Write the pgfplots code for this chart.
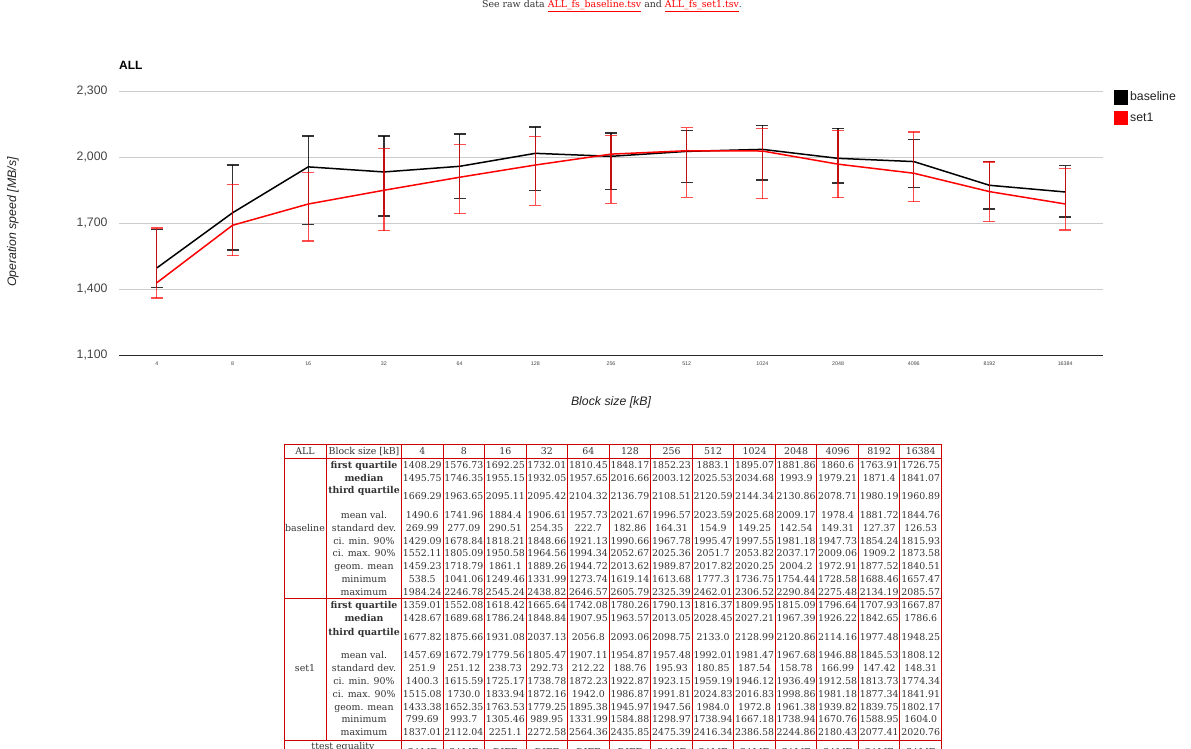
\documentclass[border=0pt]{standalone}
\usepackage{pgfplots}
\pgfplotsset{compat=1.18}
\usepackage{pgfplotstable}
\usepackage{fontspec}
\setmainfont{Liberation Sans}
\newfontfamily\serif{DejaVu Serif}
\definecolor{gridc}{HTML}{CCCCCC}
\definecolor{txt}{HTML}{444444}
\definecolor{ttl}{HTML}{222222}
\definecolor{tred}{HTML}{CC0000}
\definecolor{ttxt}{HTML}{333333}

\pgfplotstableread{
x q1 med q3
0 1408.29 1495.75 1669.29
1 1576.73 1746.35 1963.65
2 1692.25 1955.15 2095.11
3 1732.01 1932.05 2095.42
4 1810.45 1957.65 2104.32
5 1848.17 2016.66 2136.79
6 1852.23 2003.12 2108.51
7 1883.1 2025.53 2120.59
8 1895.07 2034.68 2144.34
9 1881.86 1993.9 2130.86
10 1860.6 1979.21 2078.71
11 1763.91 1871.4 1980.19
12 1726.75 1841.07 1960.89
}\tblbase

\pgfplotstableread{
x q1 med q3
0 1359.01 1428.67 1677.82
1 1552.08 1689.68 1875.66
2 1618.42 1786.24 1931.08
3 1665.64 1848.84 2037.13
4 1742.08 1907.95 2056.8
5 1780.26 1963.57 2093.06
6 1790.13 2013.05 2098.75
7 1816.37 2028.45 2133.0
8 1809.95 2027.21 2128.99
9 1815.09 1967.39 2120.86
10 1796.64 1926.22 2114.16
11 1707.93 1842.65 1977.48
12 1667.87 1786.6 1948.25
}\tblset

\newcommand\trow[2]{%
  \foreach \v [count=\i from 0] in {#2} {\node[anchor=base, inner sep=0pt] at ({422.27+41.54*\i},{#1+3.4}) {\v};}}
\newcommand\tlab[3]{\node[anchor=base, inner sep=0pt] at (364,{#1+3.4}) {#3#2};}

\begin{document}
\begin{tikzpicture}
\path[use as bounding box] (0,0) rectangle (1191pt,-749pt);
\clip (0,0) rectangle (1191pt,-749pt);
\begin{axis}[
  at={(119pt,-355pt)}, anchor=south west,
  width=984pt, height=264pt, scale only axis,
  xmin=-0.5, xmax=12.5, ymin=1100, ymax=2300,
  xtick={0,...,12},
  xticklabels={4,8,16,32,64,128,256,512,1024,2048,4096,8192,16384},
  ytick={1100,1400,1700,2000,2300},
  ymajorgrids, grid style={gridc, line width=0.8pt},
  axis line style={draw=none}, major tick length=0pt,
  xticklabel style={font=\fontsize{5.3}{6}\selectfont, text=txt, yshift=-3pt},
  yticklabel style={font=\fontsize{12.3}{14}\selectfont, text=txt, xshift=-8pt},
  clip=false,
  legend style={at={(1.0075,1.012)}, anchor=north west, draw=none, fill=none,
    font=\fontsize{12.3}{14}\selectfont, text=ttl, row sep=6pt,
    nodes={inner sep=2pt}},
  legend cell align=left,
  /pgf/number format/.cd, 1000 sep={,}, assume math mode=true
]
\draw[black!80!gridc, line width=1pt] (rel axis cs:0,0) -- (rel axis cs:1,0);
\addplot[black, line width=1.5pt, mark=none,
  legend image code/.code={\fill[black] (0pt,-6.5pt) rectangle (13pt,6.5pt);},
  error bars/.cd, y dir=both, y explicit,
  error bar style={line width=1.3pt, opacity=0.8},
  error mark options={black, rotate=90, line width=1.3pt, mark size=6pt, opacity=0.8}]
  table[x=x, y=med, y error plus expr=\thisrow{q3}-\thisrow{med}, y error minus expr=\thisrow{med}-\thisrow{q1}] {\tblbase};
\addlegendentry{baseline}
\addplot[red, line width=1.5pt, mark=none,
  legend image code/.code={\fill[red] (0pt,-6.5pt) rectangle (13pt,6.5pt);},
  error bars/.cd, y dir=both, y explicit,
  error bar style={line width=1.3pt, opacity=0.7},
  error mark options={red, rotate=90, line width=1.3pt, mark size=6pt, opacity=0.7}]
  table[x=x, y=med, y error plus expr=\thisrow{q3}-\thisrow{med}, y error minus expr=\thisrow{med}-\thisrow{q1}] {\tblset};
\addlegendentry{set1}
\end{axis}

\begin{scope}[x=1pt, y=-1pt]
% header text
\node[anchor=base, inner sep=0pt, font=\serif\fontsize{9.4}{11}\selectfont, text=ttxt] at (612,7.8)
  {See raw data \textcolor{red}{\underline{ALL\_fs\_baseline.tsv}} and \textcolor{red}{\underline{ALL\_fs\_set1.tsv}}.};
% titles
\node[anchor=base west, inner sep=0pt, font=\bfseries\fontsize{12}{14}\selectfont] at (119,69.3) {ALL};
\node[rotate=90, inner sep=0pt, font=\itshape\fontsize{12.3}{14}\selectfont, text=ttl] at (13,222) {Operation speed [MB/s]};
\node[inner sep=0pt, font=\itshape\fontsize{12.3}{14}\selectfont, text=ttl] at (611,402) {Block size [kB]};

% table
\begin{scope}[font=\serif\fontsize{9.4}{11}\selectfont, text=ttxt]
\draw[tred, line width=1pt] (284,444) rectangle (941.5,760);
\draw[tred, line width=1pt] (284,458) -- (941.5,458);
\draw[tred, line width=1pt] (284,598) -- (941.5,598);
\draw[tred, line width=1pt] (284,740) -- (941.5,740);
\draw[tred, line width=1pt] (326,444) -- (326,740);
\foreach \k in {0,...,12} {\draw[tred, line width=1pt] ({401.5+41.54*\k},444) -- ({401.5+41.54*\k},760);}

\node[anchor=base, inner sep=0pt] at (305,454.4) {ALL};
\node[anchor=base, inner sep=0pt] at (364,454.4) {Block size [kB]};
\trow{451}{4,8,16,32,64,128,256,512,1024,2048,4096,8192,16384}

\node[anchor=base, inner sep=0pt] at (305,531.4) {baseline};
\tlab{465.3}{first quartile}{\bfseries}
\tlab{478}{median}{\bfseries}
\tlab{490.5}{third quartile}{\bfseries}
\tlab{515}{mean val.}{}
\tlab{527.8}{standard dev.}{}
\tlab{540.6}{ci. min. 90\%}{}
\tlab{553.4}{ci. max. 90\%}{}
\tlab{566.2}{geom. mean}{}
\tlab{579}{minimum}{}
\tlab{591.8}{maximum}{}
\trow{465.3}{1408.29,1576.73,1692.25,1732.01,1810.45,1848.17,1852.23,1883.1,1895.07,1881.86,1860.6,1763.91,1726.75}
\trow{478}{1495.75,1746.35,1955.15,1932.05,1957.65,2016.66,2003.12,2025.53,2034.68,1993.9,1979.21,1871.4,1841.07}
\trow{496.5}{1669.29,1963.65,2095.11,2095.42,2104.32,2136.79,2108.51,2120.59,2144.34,2130.86,2078.71,1980.19,1960.89}
\trow{515}{1490.6,1741.96,1884.4,1906.61,1957.73,2021.67,1996.57,2023.59,2025.68,2009.17,1978.4,1881.72,1844.76}
\trow{527.8}{269.99,277.09,290.51,254.35,222.7,182.86,164.31,154.9,149.25,142.54,149.31,127.37,126.53}
\trow{540.6}{1429.09,1678.84,1818.21,1848.66,1921.13,1990.66,1967.78,1995.47,1997.55,1981.18,1947.73,1854.24,1815.93}
\trow{553.4}{1552.11,1805.09,1950.58,1964.56,1994.34,2052.67,2025.36,2051.7,2053.82,2037.17,2009.06,1909.2,1873.58}
\trow{566.2}{1459.23,1718.79,1861.1,1889.26,1944.72,2013.62,1989.87,2017.82,2020.25,2004.2,1972.91,1877.52,1840.51}
\trow{579}{538.5,1041.06,1249.46,1331.99,1273.74,1619.14,1613.68,1777.3,1736.75,1754.44,1728.58,1688.46,1657.47}
\trow{591.8}{1984.24,2246.78,2545.24,2438.82,2646.57,2605.79,2325.39,2462.01,2306.52,2290.84,2275.48,2134.19,2085.57}

\node[anchor=base, inner sep=0pt] at (305,671.4) {set1};
\tlab{605.3}{first quartile}{\bfseries}
\tlab{618.3}{median}{\bfseries}
\tlab{631.8}{third quartile}{\bfseries}
\tlab{655.5}{mean val.}{}
\tlab{668.3}{standard dev.}{}
\tlab{681.1}{ci. min. 90\%}{}
\tlab{693.9}{ci. max. 90\%}{}
\tlab{706.7}{geom. mean}{}
\tlab{719.5}{minimum}{}
\tlab{732.3}{maximum}{}
\trow{605.3}{1359.01,1552.08,1618.42,1665.64,1742.08,1780.26,1790.13,1816.37,1809.95,1815.09,1796.64,1707.93,1667.87}
\trow{618.3}{1428.67,1689.68,1786.24,1848.84,1907.95,1963.57,2013.05,2028.45,2027.21,1967.39,1926.22,1842.65,1786.6}
\trow{637}{1677.82,1875.66,1931.08,2037.13,2056.8,2093.06,2098.75,2133.0,2128.99,2120.86,2114.16,1977.48,1948.25}
\trow{655.5}{1457.69,1672.79,1779.56,1805.47,1907.11,1954.87,1957.48,1992.01,1981.47,1967.68,1946.88,1845.53,1808.12}
\trow{668.3}{251.9,251.12,238.73,292.73,212.22,188.76,195.93,180.85,187.54,158.78,166.99,147.42,148.31}
\trow{681.1}{1400.3,1615.59,1725.17,1738.78,1872.23,1922.87,1923.15,1959.19,1946.12,1936.49,1912.58,1813.73,1774.34}
\trow{693.9}{1515.08,1730.0,1833.94,1872.16,1942.0,1986.87,1991.81,2024.83,2016.83,1998.86,1981.18,1877.34,1841.91}
\trow{706.7}{1433.38,1652.35,1763.53,1779.25,1895.38,1945.97,1947.56,1984.0,1972.8,1961.38,1939.82,1839.75,1802.17}
\trow{719.5}{799.69,993.7,1305.46,989.95,1331.99,1584.88,1298.97,1738.94,1667.18,1738.94,1670.76,1588.95,1604.0}
\trow{732.3}{1837.01,2112.04,2251.1,2272.58,2564.36,2435.85,2475.39,2416.34,2386.58,2244.86,2180.43,2077.41,2020.76}

\node[anchor=base, inner sep=0pt] at (343,749.5) {ttest equality};
\trow{752}{SAME,SAME,DIFF,DIFF,DIFF,DIFF,SAME,SAME,SAME,SAME,SAME,SAME,SAME}
\end{scope}
\end{scope}
\end{tikzpicture}
\end{document}
